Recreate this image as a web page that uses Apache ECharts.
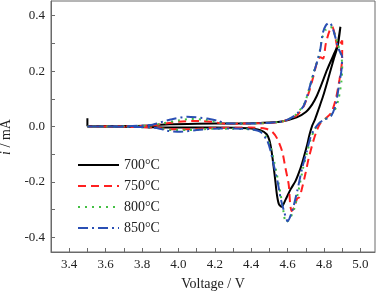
<!DOCTYPE html>
<html>
<head>
<meta charset="utf-8">
<script src="https://cdn.jsdelivr.net/npm/echarts@6/dist/echarts.min.js"></script>
<style>html,body{margin:0;padding:0;background:#fff}#c{width:379px;height:296px}</style>
</head>
<body>
<div id="c"></div>
<script>
// Series names
const seriesNames = ['700°C', '750°C', '800°C', '850°C'];

// [Voltage (V), current (mA)] along each CV loop
const cv700 = [
  [3.5,0.03],[3.5,0.002],[3.7,0.002],[3.85,0.004],[3.95,0.008],[4.1,0.01],[4.3,0.011],[4.45,0.013],[4.56,0.017],
  [4.65,0.033],[4.7,0.052],[4.735,0.08],[4.76,0.11],[4.785,0.15],[4.817,0.205],[4.85,0.255],[4.872,0.29],[4.89,0.36],
  [4.875,0.29],[4.854,0.245],[4.817,0.159],[4.795,0.11],[4.771,0.064],[4.75,0.025],[4.735,0.003],[4.72,-0.03],
  [4.707,-0.067],[4.685,-0.12],[4.671,-0.15],[4.643,-0.197],[4.616,-0.227],[4.588,-0.265],[4.567,-0.29],[4.552,-0.28],
  [4.542,-0.25],[4.533,-0.2],[4.524,-0.15],[4.512,-0.09],[4.5,-0.05],[4.485,-0.028],[4.45,-0.013],[4.38,-0.006],
  [4.2,-0.004],[4.0,-0.004],[3.8,-0.002],[3.5,0.0]
];
const cv750 = [
  [3.5,0.0],[3.7,0.001],[3.85,0.003],[3.92,0.01],[4.0,0.017],[4.08,0.02],[4.18,0.017],[4.26,0.01],[4.4,0.011],
  [4.5,0.013],[4.58,0.02],[4.65,0.04],[4.69,0.075],[4.72,0.13],[4.745,0.19],[4.765,0.24],[4.78,0.25],[4.795,0.245],
  [4.81,0.3],[4.83,0.345],[4.845,0.36],[4.86,0.33],[4.875,0.285],[4.89,0.3],[4.9,0.31],
  [4.898,0.23],[4.885,0.17],[4.865,0.1],[4.84,0.05],[4.81,0.03],[4.78,0.012],[4.76,-0.015],[4.74,-0.055],
  [4.716,-0.114],[4.698,-0.17],[4.68,-0.22],[4.665,-0.255],[4.652,-0.26],[4.638,-0.29],[4.622,-0.305],[4.614,-0.28],
  [4.606,-0.21],[4.588,-0.15],[4.57,-0.09],[4.542,-0.043],[4.515,-0.019],[4.48,-0.008],[4.4,-0.004],[4.2,-0.005],
  [4.05,-0.01],[3.95,-0.01],[3.88,-0.004],[3.7,-0.001],[3.5,0.0]
];
const cv800 = [
  [3.5,0.0],[3.7,0.001],[3.85,0.004],[3.92,0.012],[4.0,0.022],[4.07,0.027],[4.15,0.024],[4.25,0.012],[4.4,0.011],
  [4.5,0.013],[4.58,0.02],[4.64,0.04],[4.69,0.08],[4.72,0.14],[4.745,0.2],[4.77,0.25],[4.79,0.32],[4.81,0.35],
  [4.835,0.36],[4.855,0.34],[4.875,0.3],[4.893,0.26],[4.9,0.22],
  [4.895,0.16],[4.88,0.1],[4.86,0.06],[4.83,0.035],[4.8,0.025],[4.77,0.01],[4.745,-0.015],[4.725,-0.05],
  [4.705,-0.1],[4.685,-0.15],[4.66,-0.23],[4.635,-0.3],[4.61,-0.335],[4.59,-0.346],[4.578,-0.31],[4.56,-0.24],
  [4.54,-0.17],[4.522,-0.115],[4.505,-0.07],[4.48,-0.035],[4.45,-0.018],[4.4,-0.01],[4.2,-0.008],[4.05,-0.013],
  [3.97,-0.013],[3.9,-0.006],[3.7,-0.001],[3.5,0.0]
];
const cv850 = [
  [3.5,0.0],[3.7,0.001],[3.85,0.005],[3.88,0.011],[3.956,0.025],[4.047,0.035],[4.157,0.029],[4.22,0.02],[4.267,0.011],
  [4.4,0.011],[4.5,0.013],[4.58,0.02],[4.64,0.04],[4.689,0.076],[4.72,0.14],[4.744,0.195],[4.765,0.24],[4.78,0.28],
  [4.793,0.337],[4.81,0.365],[4.83,0.375],[4.845,0.36],[4.863,0.32],[4.88,0.28],[4.9,0.25],
  [4.895,0.2],[4.885,0.16],[4.863,0.076],[4.836,0.035],[4.8,0.025],[4.77,0.01],[4.745,-0.012],[4.725,-0.04],
  [4.705,-0.09],[4.68,-0.15],[4.652,-0.235],[4.625,-0.305],[4.6,-0.342],[4.582,-0.31],[4.562,-0.26],[4.545,-0.2],
  [4.524,-0.14],[4.505,-0.085],[4.487,-0.05],[4.45,-0.019],[4.4,-0.01],[4.23,-0.007],[4.1,-0.013],[4.01,-0.019],
  [3.937,-0.015],[3.88,-0.005],[3.7,-0.001],[3.5,0.0]
];

// Axis ticks and labels
const xLabelValues = [3.4,3.6,3.8,4.0,4.2,4.4,4.6,4.8,5.0];
const xTickValues = [3.4,3.5,3.6,3.7,3.8,3.9,4.0,4.1,4.2,4.3,4.4,4.5,4.6,4.7,4.8,4.9,5.0];
const yLabelValues = [-0.4,-0.2,0.0,0.2,0.4];
const yTickValues = [-0.4,-0.3,-0.2,-0.1,0.0,0.1,0.2,0.3,0.4];

const colors = ['#000000', '#ff2020', '#44c044', '#2a4fb4'];
const dashes = ['solid', [8, 5], [2, 5], [10, 4, 2, 4]];
const datasets = [cv700, cv750, cv800, cv850];

const serif = '"Liberation Serif", "Times New Roman", serif';
const chart = echarts.init(document.getElementById('c'));
chart.setOption({
  animation: false,
  grid: { left: 51, right: 4, top: 1, bottom: 40, show: true, borderColor: '#6a6a6a', borderWidth: 1, backgroundColor: 'transparent' },
  xAxis: {
    type: 'value', min: 3.3, max: 5.08,
    axisLine: { show: true, onZero: false, lineStyle: { color: '#6a6a6a', width: 1 } },
    axisTick: { show: true, inside: true, length: 4, customValues: xTickValues, lineStyle: { color: '#6a6a6a' } },
    axisLabel: { customValues: xLabelValues, color: '#222', fontFamily: serif, fontSize: 13, margin: 6,
      formatter: v => v.toFixed(1) },
    splitLine: { show: false },
    name: 'Voltage / V', nameLocation: 'middle', nameGap: 25,
    nameTextStyle: { color: '#222', fontFamily: serif, fontSize: 14 }
  },
  yAxis: {
    type: 'value', min: -0.453, max: 0.453,
    axisLine: { show: true, onZero: false, lineStyle: { color: '#6a6a6a', width: 1 } },
    axisTick: { show: true, inside: true, length: 4, customValues: yTickValues, lineStyle: { color: '#6a6a6a' } },
    axisLabel: { customValues: yLabelValues, color: '#222', fontFamily: serif, fontSize: 13, margin: 6,
      formatter: v => v.toFixed(1) },
    splitLine: { show: false }
  },
  graphic: [{
    type: 'text', x: 6, y: 137, rotation: Math.PI / 2,
    style: { text: '{it|i} / mA', fill: '#222', font: '14px ' + serif, align: 'center', verticalAlign: 'middle',
      rich: { it: { fontStyle: 'italic', fontFamily: serif, fontSize: 14, fill: '#222' } } }
  }],
  legend: {
    orient: 'vertical', left: 72, top: 153, itemWidth: 41, itemHeight: 14, itemGap: 7,
    itemStyle: { opacity: 0 },
    textStyle: { color: '#222', fontFamily: serif, fontSize: 14 },
    data: seriesNames
  },
  series: datasets.map((d, k) => ({
    name: seriesNames[k], type: 'line', data: d, symbol: 'none', showSymbol: false, smooth: 0.25,
    lineStyle: { color: colors[k], width: 2, type: dashes[k] },
    itemStyle: { color: colors[k] }
  }))
});
</script>
</body>
</html>
